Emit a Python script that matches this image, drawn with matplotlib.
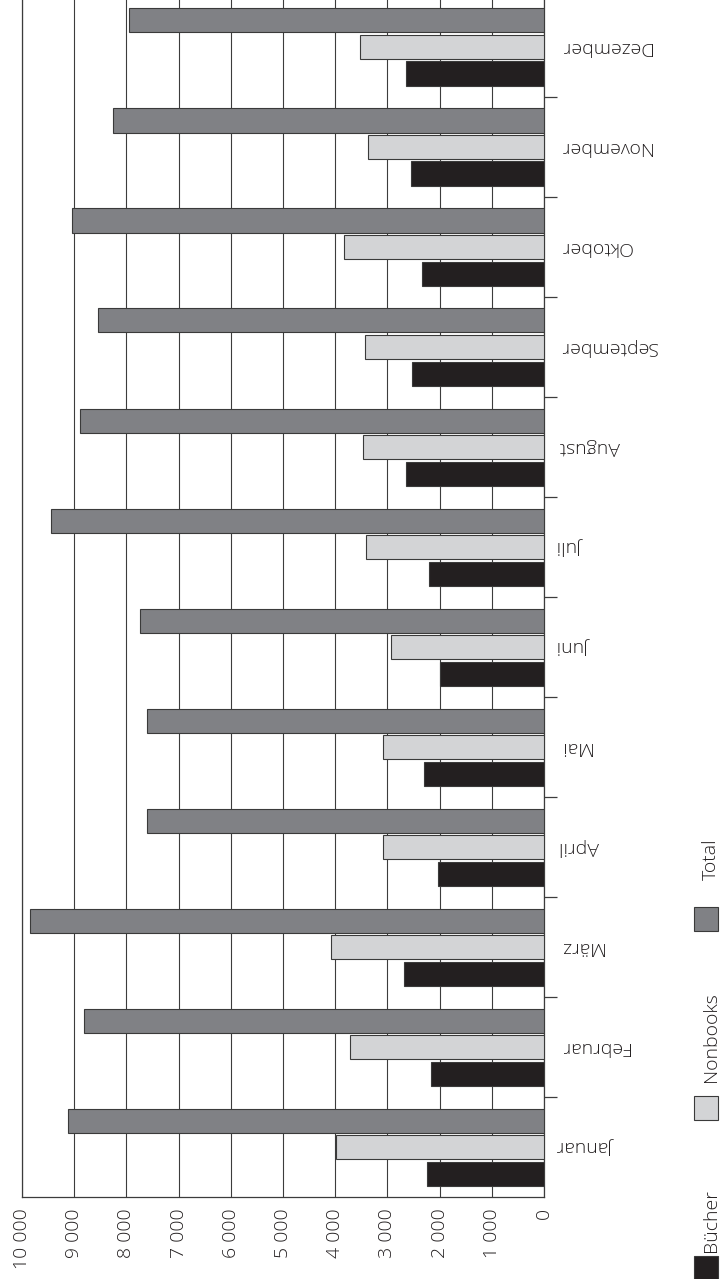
import numpy as np
import matplotlib
matplotlib.use("Agg")
import matplotlib.pyplot as plt
from matplotlib.patches import Rectangle
from matplotlib.ticker import FixedLocator, FuncFormatter

# Monatswerte
months = ["Januar", "Februar", "März", "April", "Mai", "Juni",
          "Juli", "August", "September", "Oktober", "November", "Dezember"]
buecher = [2250, 2160, 2680, 2040, 2290, 2000, 2210, 2650, 2520, 2340, 2550, 2640]
nonbooks = [3980, 3720, 4090, 3090, 3090, 2930, 3410, 3460, 3420, 3830, 3370, 3520]
total = [9110, 8820, 9850, 7610, 7610, 7730, 9450, 8880, 8550, 9050, 8250, 7950]
value_ticks = [0, 1000, 2000, 3000, 4000, 5000, 6000, 7000, 8000, 9000, 10000]

series_names = ["Bücher", "Nonbooks", "Total"]
series_colors = ["#231f20", "#d3d4d6", "#808185"]

plt.rcParams["font.family"] = ["Open Sans", "DejaVu Sans"]
plt.rcParams["font.weight"] = 300
text_color = "#231f20"
W, H = 723, 1279

fig = plt.figure(figsize=(W / 100, H / 100), dpi=100)
# Achsenbereich reicht oben knapp über den Bildrand hinaus
ax = fig.add_axes([22 / W, (H - 1197) / H, (544 - 22) / W, 1200 / H])

y = np.arange(len(months))
bar_h = 0.24
for vals, off, col in zip([buecher, nonbooks, total], [-0.265, 0.0, 0.265], series_colors):
    ax.barh(y + off, vals, height=bar_h, color=col, edgecolor="#3a3a3a",
            linewidth=0.8, zorder=3)

# Wertachse: 0 rechts, 10 000 links
ax.set_xlim(10000, 0)
ax.set_ylim(-0.5, 11.5)
ax.xaxis.set_major_locator(FixedLocator(value_ticks))
ax.xaxis.set_major_formatter(FuncFormatter(lambda v, p: f"{int(v):,}".replace(",", " ")))
ax.grid(axis="x", color="#3c3c3c", linewidth=0.8, zorder=1)
ax.tick_params(axis="x", length=0, pad=8, labelsize=14, colors=text_color)
for lab in ax.get_xticklabels():
    lab.set_rotation(90)
    lab.set_va("top")
    lab.set_ha("center")

# Monatsachse rechts, Beschriftung auf dem Kopf
ax.yaxis.tick_right()
ax.set_yticks(y)
ax.set_yticklabels(months)
ax.set_yticks(np.arange(len(months)) + 0.5, minor=True)
ax.tick_params(axis="y", which="major", length=0, pad=11, labelsize=14,
               labelcolor=text_color)
ax.tick_params(axis="y", which="minor", length=9, width=0.9, color="#3c3c3c",
               direction="out")
for lab in ax.get_yticklabels():
    lab.set_rotation(180)
    lab.set_ha("left")
    lab.set_va("center")

for side in ["left", "bottom", "right"]:
    ax.spines[side].set_color("#3c3c3c")
    ax.spines[side].set_linewidth(0.9)
ax.spines["top"].set_visible(False)

# Legende unten rechts, senkrecht
legend_pos = [(1256, 1252), (1096, 1082), (907, 880)]
for name, col, (sq_top, txt_start) in zip(series_names, series_colors, legend_pos):
    fig.add_artist(Rectangle((694 / W, (H - sq_top - 24) / H), 24 / W, 24 / H,
                             transform=fig.transFigure, facecolor=col,
                             edgecolor="#3a3a3a", linewidth=0.8))
    fig.text(711 / W, (H - txt_start) / H, name, rotation=90, ha="center",
             va="bottom", fontsize=14, color=text_color)

fig.savefig("out.png", dpi=100)
